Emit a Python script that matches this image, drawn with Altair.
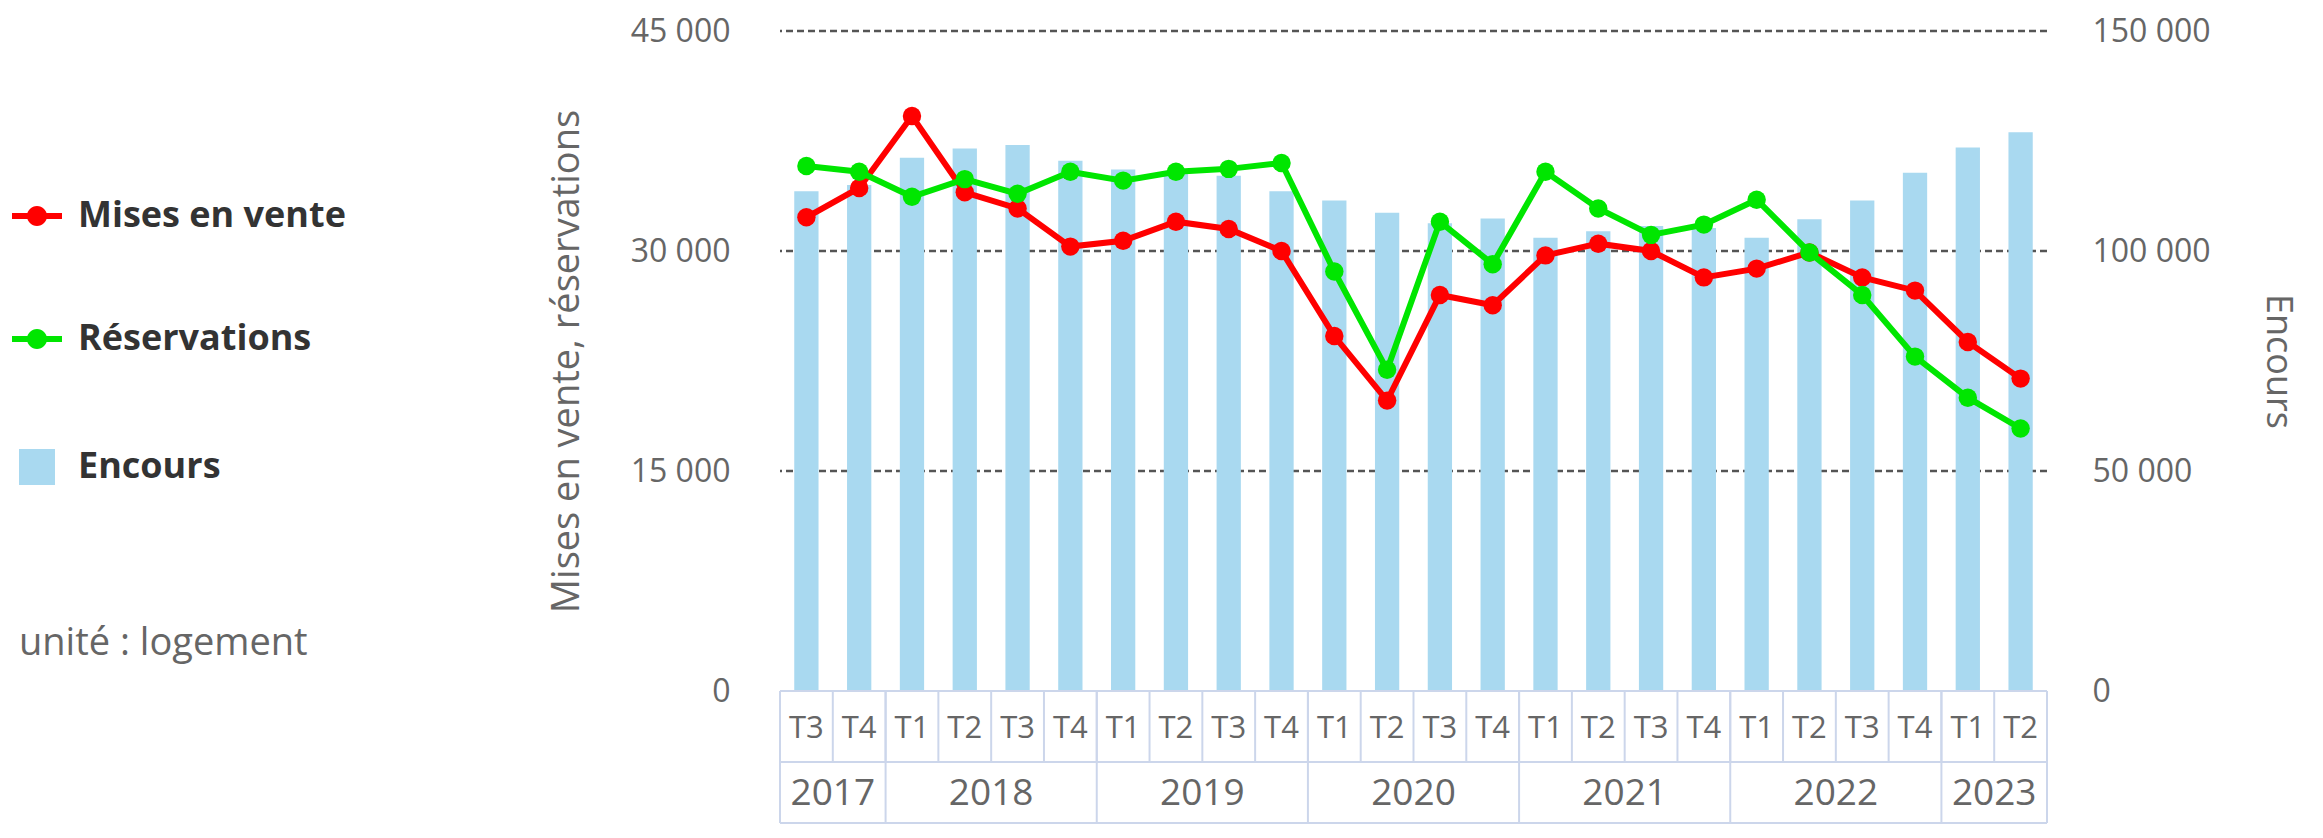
import altair as alt
import pandas as pd

annees = ["2017", "2017", "2018", "2018", "2018", "2018", "2019", "2019", "2019", "2019",
          "2020", "2020", "2020", "2020", "2021", "2021", "2021", "2021", "2022", "2022",
          "2022", "2022", "2023", "2023"]
trimestres = ["T3", "T4", "T1", "T2", "T3", "T4", "T1", "T2", "T3", "T4", "T1", "T2",
              "T3", "T4", "T1", "T2", "T3", "T4", "T1", "T2", "T3", "T4", "T1", "T2"]
mises_en_vente = [32300, 34300, 39200, 34000, 32900, 30300, 30700, 32000, 31500, 30000,
                  24200, 19800, 27000, 26300, 29700, 30500, 30000, 28200, 28800, 29900,
                  28200, 27300, 23800, 21300]
reservations = [35800, 35400, 33700, 34900, 33900, 35400, 34800, 35400, 35600, 36000,
                28600, 21900, 32000, 29100, 35400, 32900, 31100, 31800, 33500, 29900,
                27000, 22800, 20000, 17900]
encours = [113600, 115000, 121200, 123300, 124100, 120500, 118500, 117500, 117100, 113600,
           111500, 108700, 106300, 107400, 103000, 104500, 105700, 105200, 103000, 107200,
           111500, 117800, 123500, 127000]

series_names = ["Mises en vente", "Réservations"]
series_colors = ["#ff0000", "#00e600"]
bar_color = "#a9d9f0"
grid_values = [15000, 30000, 45000]
left_ticks = [0, 15000, 30000, 45000]
right_ticks = [0, 50000, 100000, 150000]

n = len(trimestres)
idx = list(range(n))
base_df = pd.DataFrame({"idx": idx, "annee": annees, "trimestre": trimestres,
                        "encours": encours})
long_df = pd.DataFrame({
    "idx": idx * 2,
    "serie": [series_names[0]] * n + [series_names[1]] * n,
    "valeur": mises_en_vente + reservations,
})
year_bounds = [i - 0.5 for i in idx if i == 0 or annees[i] != annees[i - 1]] + [n - 0.5]
ybounds_df = pd.DataFrame({"xb": year_bounds})
grid_df = pd.DataFrame({"v": grid_values})

W, H = 1267, 660
Q_TOP, Q_BOT, Y_BOT = H, H + 71, H + 132

xscale = alt.Scale(domain=[-0.5, n - 0.5], nice=False, zero=False)
lscale = alt.Scale(domain=[0, 45000], nice=False)
rscale = alt.Scale(domain=[0, 150000], nice=False)

NUM_FONT = "Open Sans"
TXT_FONT = "Open Sans"
LABEL_EXPR = "replace(format(datum.value, ','), ',', ' ')"
TABLE_COLOR = "#ccd6eb"

LEG_PATH = ("M-1,-0.12L1,-0.12L1,0.12L-1,0.12Z "
            "M0.4,0A0.4,0.4,0,1,1,-0.4,0A0.4,0.4,0,1,1,0.4,0Z")

# grid
grid = alt.Chart(grid_df).mark_rule(color="#555555", strokeWidth=2.5, strokeDash=[7, 4]).encode(
    y=alt.Y("v:Q", scale=lscale, axis=None)
)

# bars (Encours), right axis
bars = alt.Chart(base_df).transform_calculate(
    x0="datum.idx - 0.23", x1="datum.idx + 0.23", serie="'Encours'"
).mark_bar().encode(
    x=alt.X("x0:Q", scale=xscale, axis=None),
    x2="x1:Q",
    y=alt.Y("encours:Q", scale=rscale, axis=alt.Axis(
        orient="right", values=right_ticks, grid=False, domain=False, ticks=False,
        labelPadding=45, labelFont=NUM_FONT, labelFontSize=32, labelColor="#666666",
        labelExpr=LABEL_EXPR, title="Encours", titleFont=TXT_FONT, titleFontSize=36,
        titleFontWeight="normal", titleColor="#666666", titleX=230, titleY=H / 2,
        titleAngle=90, titleAlign="center", titleBaseline="middle")),
    y2=alt.datum(0),
    fill=alt.Fill("serie:N", scale=alt.Scale(domain=["Encours"], range=[bar_color]),
                  legend=alt.Legend(
                      title="\u2002unité : logement", orient="none", legendX=-761, legendY=418,
                      symbolType="square", symbolSize=1296, symbolStrokeWidth=0,
                      labelFont=TXT_FONT, labelFontSize=36, labelFontWeight="bold",
                      labelColor="#333333", labelOffset=23, labelLimit=600, padding=0,
                      titleOrient="bottom", titleFont=TXT_FONT, titleFontSize=38,
                      titleFontWeight="normal", titleColor="#666666", titlePadding=140,
                      titleBaseline="top", titleAlign="left", titleLimit=600)),
)

color_scale = alt.Scale(domain=series_names, range=series_colors)


def series_layers(k, with_axis):
    name = series_names[k]
    src = alt.Chart(long_df).transform_filter(alt.datum.serie == name)
    yaxis = None
    if with_axis:
        yaxis = alt.Axis(
            orient="left", values=left_ticks, grid=False, domain=False, ticks=False,
            labelPadding=50, labelFont=NUM_FONT, labelFontSize=32, labelColor="#666666",
            labelExpr=LABEL_EXPR, title="Mises en vente, réservations", titleFont=TXT_FONT,
            titleFontSize=38, titleFontWeight="normal", titleColor="#666666",
            titleX=-213, titleY=H / 2, titleAngle=270, titleAlign="center",
            titleBaseline="middle")
    line = src.mark_line(strokeWidth=6, color=series_colors[k]).encode(
        x=alt.X("idx:Q", scale=xscale, axis=None),
        y=alt.Y("valeur:Q", scale=lscale, axis=yaxis),
    )
    pts = src.mark_circle(size=340, opacity=1).encode(
        x=alt.X("idx:Q", scale=xscale, axis=None),
        y=alt.Y("valeur:Q", scale=lscale, axis=None),
        color=alt.Color("serie:N", scale=color_scale, legend=alt.Legend(
            title=None, orient="none", legendX=-768, legendY=160,
            symbolType=LEG_PATH, symbolSize=2500, symbolStrokeWidth=0, symbolOpacity=1,
            labelFont=TXT_FONT, labelFontSize=36, labelFontWeight="bold",
            labelColor="#333333", labelOffset=16, labelLimit=600, rowPadding=80,
            padding=0)),
    )
    return [line, pts]


# category table
q_rules = alt.Chart(base_df).transform_calculate(xb="datum.idx - 0.5").mark_rule(
    color=TABLE_COLOR, strokeWidth=2).encode(
    x=alt.X("xb:Q", scale=xscale, axis=None), y=alt.value(Q_TOP), y2=alt.value(Q_BOT))
y_rules = alt.Chart(ybounds_df).mark_rule(color=TABLE_COLOR, strokeWidth=2).encode(
    x=alt.X("xb:Q", scale=xscale, axis=None), y=alt.value(Q_TOP), y2=alt.value(Y_BOT))
h_rules = [
    alt.Chart(ybounds_df).mark_rule(color=TABLE_COLOR, strokeWidth=2).encode(
        x=alt.X("min(xb):Q", scale=xscale, axis=None), x2="max(xb):Q", y=alt.value(yy))
    for yy in (Q_TOP, Q_BOT, Y_BOT)
]
q_text = alt.Chart(base_df).mark_text(font=NUM_FONT, fontSize=31, color="#666666",
                                      baseline="middle").encode(
    x=alt.X("idx:Q", scale=xscale, axis=None), y=alt.value(Q_TOP + 38), text="trimestre:N")
y_text = alt.Chart(base_df).transform_aggregate(
    xm="mean(idx)", groupby=["annee"]).mark_text(
    font=NUM_FONT, fontSize=37, color="#666666", baseline="middle").encode(
    x=alt.X("xm:Q", scale=xscale, axis=None), y=alt.value(Q_BOT + 32), text="annee:N")

layers = [grid, bars] + series_layers(0, True) + series_layers(1, False)
layers += [q_rules, y_rules] + h_rules + [q_text, y_text]

chart = alt.layer(*layers).resolve_scale(y="independent").properties(
    width=W, height=H,
    padding={"left": 772, "top": 23, "right": 262, "bottom": 134},
    autosize=alt.AutoSizeParams(type="none"),
    background="white",
).configure_view(stroke=None)

chart.save("out.html", embed_options={"renderer": "svg", "actions": False})
